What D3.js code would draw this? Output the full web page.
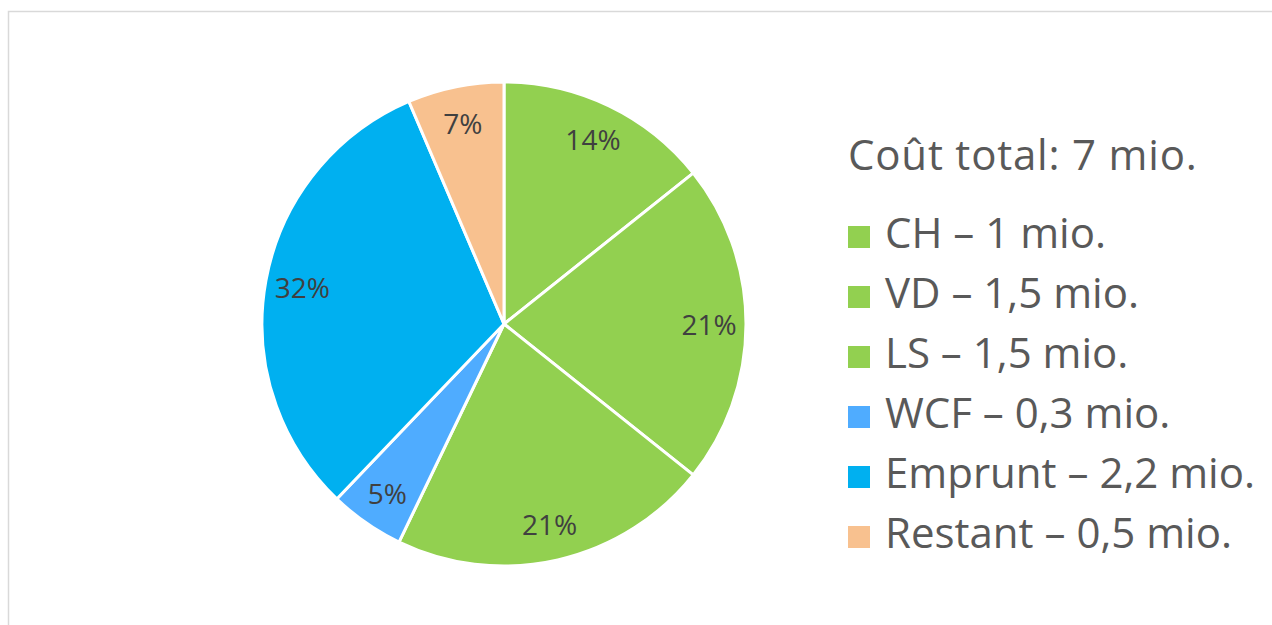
<!DOCTYPE html>
<html>
<head>
<meta charset="utf-8">
<script src="https://cdn.jsdelivr.net/npm/d3@7"></script>
<style>
  body { margin: 0; background: #fff; }
  svg { display: block; }
</style>
</head>
<body>
<svg width="1272" height="625"></svg>
<script>
  const categories = ["CH", "VD", "LS", "WCF", "Emprunt", "Restant"];
  const values = [1, 1.5, 1.5, 0.35, 2.2, 0.45];
  const legendLabels = ["CH – 1 mio.", "VD – 1,5 mio.", "LS – 1,5 mio.", "WCF – 0,3 mio.", "Emprunt – 2,2 mio.", "Restant – 0,5 mio."];
  const percentLabels = ["14%", "21%", "21%", "5%", "32%", "7%"];
  const colors = ["#92d050", "#92d050", "#92d050", "#4facff", "#00b0f0", "#f8c18f"];
  const title = "Coût total: 7 mio.";

  const width = 1272;
  const height = 625;
  const center = { x: 504, y: 324 };
  const radius = 242;
  const font = "'Open Sans', Lato, sans-serif";

  const svg = d3.select("svg");

  // chart area border
  svg.append("rect")
    .attr("x", 8.5)
    .attr("y", 11.5)
    .attr("width", width + 10)
    .attr("height", height + 10)
    .attr("fill", "none")
    .attr("stroke", "#d9d9d9")
    .attr("stroke-width", 1.5);

  const data = categories.map((c, i) => ({ name: c, value: values[i], label: percentLabels[i], color: colors[i] }));

  const pie = d3.pie().value(d => d.value).sort(null);
  const arc = d3.arc().innerRadius(0).outerRadius(radius);
  const labelArc = d3.arc().innerRadius(205).outerRadius(205);

  const g = svg.append("g").attr("transform", `translate(${center.x}, ${center.y})`);

  const arcs = pie(data);

  g.selectAll("path")
    .data(arcs)
    .join("path")
    .attr("d", arc)
    .attr("fill", d => d.data.color)
    .attr("stroke", "#fff")
    .attr("stroke-width", 3)
    .attr("stroke-linejoin", "round");

  g.selectAll("text")
    .data(arcs)
    .join("text")
    .attr("transform", d => `translate(${labelArc.centroid(d)})`)
    .attr("text-anchor", "middle")
    .attr("dominant-baseline", "central")
    .attr("font-family", font)
    .attr("font-size", 28)
    .attr("fill", "#404040")
    .text(d => d.data.label);

  // legend
  const legend = svg.append("g").attr("transform", "translate(848, 0)");

  legend.append("text")
    .attr("x", 0)
    .attr("y", 170)
    .attr("font-family", font)
    .attr("font-size", 42)
    .attr("letter-spacing", 0.8)
    .attr("fill", "#595959")
    .text(title);

  const rows = legend.selectAll("g.row")
    .data(data)
    .join("g")
    .attr("class", "row")
    .attr("transform", (d, i) => `translate(0, ${248 + i * 60})`);

  rows.append("rect")
    .attr("x", 0)
    .attr("y", -22)
    .attr("width", 22)
    .attr("height", 22)
    .attr("fill", d => d.color);

  rows.append("text")
    .attr("x", 37)
    .attr("y", 0)
    .attr("font-family", font)
    .attr("font-size", 42)
    .attr("fill", "#595959")
    .text((d, i) => legendLabels[i]);
</script>
</body>
</html>
